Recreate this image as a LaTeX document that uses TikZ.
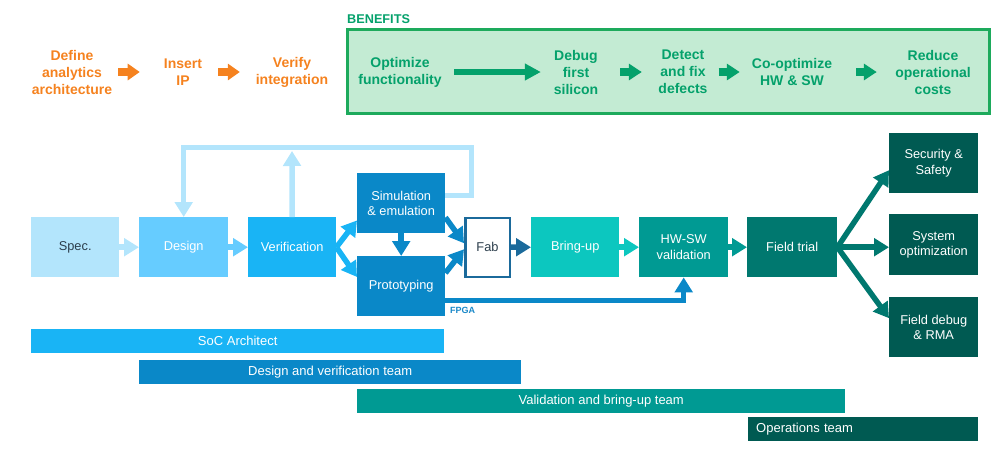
\documentclass[tikz,border=0pt]{standalone}
\usepackage{fontspec}
\setmainfont{Liberation Sans}
\usetikzlibrary{arrows.meta}
\definecolor{cSpec}{HTML}{B3E5FC}
\definecolor{cDesign}{HTML}{66CCFF}
\definecolor{cVerif}{HTML}{19B4F5}
\definecolor{cSim}{HTML}{0A88C8}
\definecolor{cFabB}{HTML}{1B6A9B}
\definecolor{cBring}{HTML}{0CC7BF}
\definecolor{cHW}{HTML}{009A93}
\definecolor{cField}{HTML}{00786F}
\definecolor{cOut}{HTML}{005A52}
\definecolor{cDark}{HTML}{2C3E4C}
\definecolor{cOrange}{HTML}{F5821F}
\definecolor{cGreenT}{HTML}{04A16B}
\definecolor{cBenF}{HTML}{C3EBD3}
\definecolor{cBenB}{HTML}{1DAA5C}
\definecolor{cFPGA}{HTML}{1A88C8}
\begin{document}
\begin{tikzpicture}[x=1pt,y=-1pt,
  box/.style={rectangle, inner sep=0pt, anchor=north west, text=white, align=center,
    font=\fontsize{12.8}{15.5}\selectfont, minimum width=88pt, minimum height=60pt},
  bar/.style={rectangle, inner sep=0pt, anchor=north west, text=white,
    font=\fontsize{13}{15}\selectfont, minimum height=24pt},
  flow/.style={line width=5.5pt, -{Triangle[width=17.5pt,length=15pt]}},
  big/.style={inner sep=0pt, align=center, font=\fontsize{14}{17}\selectfont\bfseries},
  oarr/.style={draw=cOrange, line width=8pt, -{Triangle[width=16pt,length=12pt]}},
  garr/.style={draw=cGreenT, line width=5.3pt, -{Triangle[width=16pt,length=16pt]}},
  gsm/.style={draw=cGreenT, line width=7.7pt, -{Triangle[width=16pt,length=13pt]}}
]
\useasboundingbox (0,0) rectangle (999,451);

% ---- top orange flow ----
\node[big, text=cOrange] (def) at (72,72) {Define\\analytics\\architecture};
\node[big, text=cOrange] (ins) at (183,72) {Insert\\IP};
\node[big, text=cOrange] (vfy) at (292,72) {Verify\\integration};
\draw[oarr, shorten <=6pt, shorten >=24pt] (def) -- (ins);
\draw[oarr, shorten <=16pt, shorten >=15.8pt] (ins) -- (vfy);

% ---- benefits ----
\node[draw=cBenB, line width=3pt, fill=cBenF, minimum width=642.3pt, minimum height=83.7pt,
  anchor=north west, inner sep=0pt] (benbox) at (345.7,28.3) {};
\node[font=\fontsize{12.7}{14}\selectfont\bfseries, text=cGreenT, anchor=west, inner sep=0pt] (benlab) at (347,19.5) {BENEFITS};
\node[big, text=cGreenT] (opt) at (400,72) {Optimize\\functionality};
\node[big, text=cGreenT] (dbg) at (576,72) {Debug\\first\\silicon};
\node[big, text=cGreenT] (det) at (683,72) {Detect\\and fix\\defects};
\node[big, text=cGreenT] (coo) at (792,72) {Co-optimize\\HW \& SW};
\node[big, text=cGreenT] (red) at (933,72) {Reduce\\operational\\costs};
\draw[garr, shorten <=12.4pt, shorten >=12.8pt] (opt) -- (dbg);
\draw[gsm, shorten <=21.8pt, shorten >=16.5pt] (dbg) -- (det);
\draw[gsm, shorten <=10.8pt, shorten >=12pt] (det) -- (coo);
\draw[gsm, shorten <=24pt, shorten >=18.3pt] (coo) -- (red);

% ---- flow boxes ----
\node[box, fill=cSpec, text=cDark] (spec) at (31,217) {Spec.};
\node[box, fill=cDesign, minimum width=89pt] (design) at (139,217) {Design};
\node[box, fill=cVerif] (verif) at (248,217) {Verification};
\node[box, fill=cSim] (sim) at (357,173) {Simulation\\\& emulation};
\node[box, fill=cSim] (proto) at (357,256) {Prototyping};
\node[box, draw=cFabB, line width=2.5pt, fill=white, text=cDark,
  minimum width=44.5pt, minimum height=59pt] (fab) at (464,216.5) {Fab};
\node[box, fill=cBring] (bring) at (531,217) {Bring-up};
\node[box, fill=cHW, minimum width=89pt] (hwsw) at (639,217) {HW-SW\\validation};
\node[box, fill=cField, minimum width=90pt] (field) at (747,217) {Field trial};
\node[box, fill=cOut, minimum width=89pt] (sec) at (889,133) {Security \&\\Safety};
\node[box, fill=cOut, minimum width=89pt, minimum height=61pt] (sys) at (889,214) {System\\optimization};
\node[box, fill=cOut, minimum width=89pt] (deb) at (889,297) {Field debug\\\& RMA};

% ---- connectors ----
\coordinate (vtop) at (292,151);
\coordinate (loopc) at (471,147);
\draw[flow, draw=cSpec] (spec) -- (design);
\draw[flow, draw=cDesign] (design) -- (verif);
\draw[flow, draw=cSpec] (verif.north) -- (vtop);
\draw[flow, draw=cSpec, line width=5pt] ([yshift=8pt]sim.east) -| (loopc) -| (design.north);
\draw[flow, draw=cVerif] (verif.east) -- ([yshift=13pt]sim.south west);
\draw[flow, draw=cVerif] (verif.east) -- ([yshift=-21pt]proto.north west);
\draw[flow, draw=cSim] (sim) -- (proto);
\draw[flow, draw=cSim] ([yshift=16pt]sim.south east) -- ([yshift=4pt]fab.west);
\draw[flow, draw=cSim] ([yshift=-17pt]proto.north east) -- ([yshift=-2pt]fab.west);
\draw[flow, draw=cFabB] (fab) -- (bring);
\draw[flow, draw=cBring] (bring) -- (hwsw);
\draw[flow, draw=cHW] (hwsw) -- (field);
\draw[flow, draw=cSim, line width=5pt] ([yshift=-14pt]proto.east) -| (hwsw.south);
\node[font=\fontsize{9}{10}\selectfont\bfseries, text=cFPGA, anchor=west, inner sep=0pt] (fpga) at (450,310) {FPGA};
\draw[flow, draw=cField] (field.east) -- ([yshift=-7pt]sec.west);
\draw[flow, draw=cField] (field.east) -- (sys.west |- field.east);
\draw[flow, draw=cField] (field.east) -- ([yshift=9pt]deb.west);

% ---- team bars ----
\node[bar, fill=cVerif, minimum width=413pt] (b1) at (31,329) {SoC Architect};
\node[bar, fill=cSim, minimum width=382pt] (b2) at (139,360) {Design and verification team};
\node[bar, fill=cHW, minimum width=488pt] (b3) at (357,389) {Validation and bring-up team};
\node[bar, fill=cOut, minimum width=230pt, inner xsep=8pt, text width=214pt, align=left] (b4) at (748,417) {Operations team};
\end{tikzpicture}
\end{document}
